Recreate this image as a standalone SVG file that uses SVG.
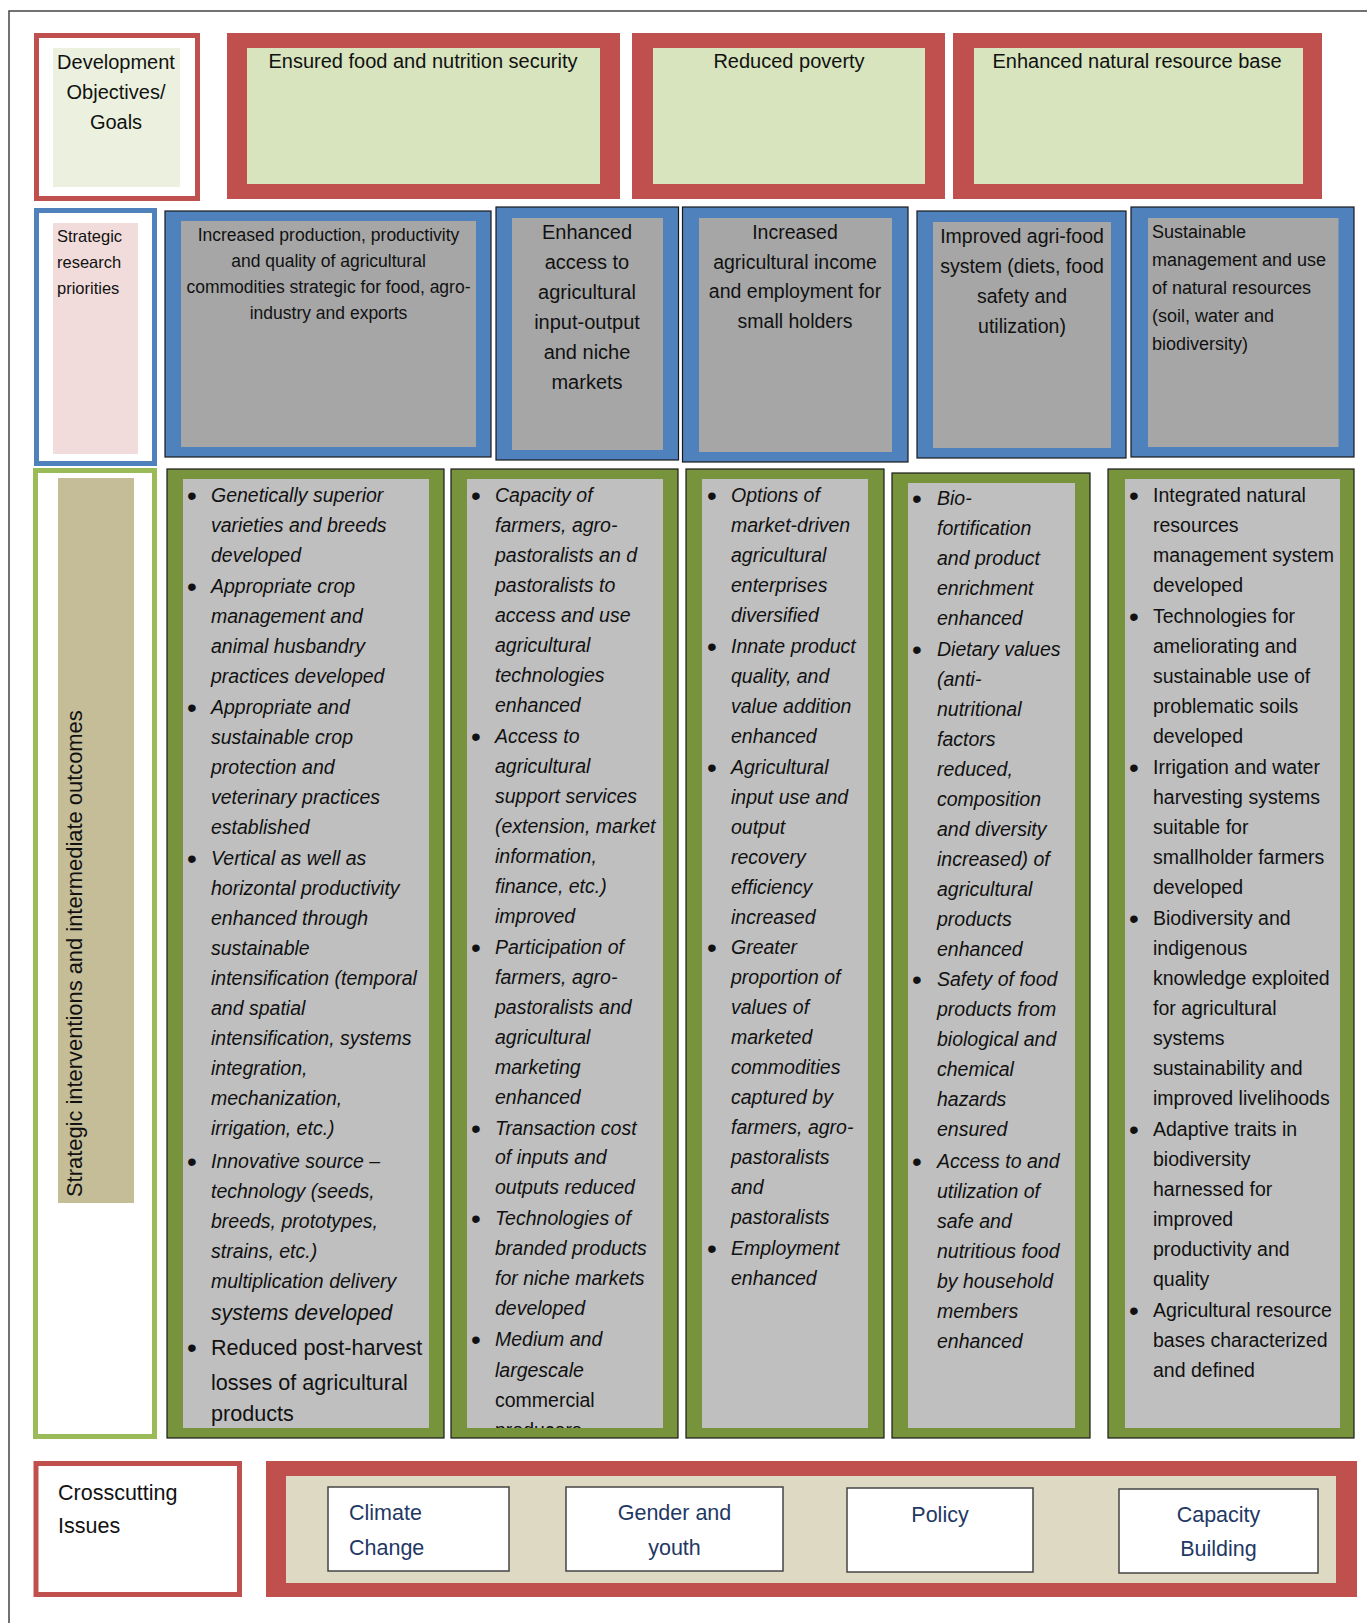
<svg xmlns="http://www.w3.org/2000/svg" width="1367" height="1623" viewBox="0 0 1367 1623">
<style>
text{font-family:"Liberation Sans",Arial,sans-serif;fill:#111}
.red{fill:#C0504D}
.blue{fill:#4F81BD;stroke:#1a1a1a;stroke-width:1.2}
.blueL{fill:#4F81BD}
.grn{fill:#77933C;stroke:#1a1a1a;stroke-width:1.2}
.lgrn{fill:#9BBB59}
.w{fill:#fff}
.g1{fill:#D7E4BD}
.g2{fill:#A6A6A6}
.g3{fill:#BFBFBF}
.h{font-size:20px;text-anchor:middle}
.b{font-size:19.5px;font-style:italic}
.bu{font-size:19.5px}
.dot{font-size:28px;text-anchor:middle}
.cc{fill:#fff;stroke:#444;stroke-width:1.5}
.nv{fill:#1F3864;font-size:21.5px}
</style>
<defs>
<clipPath id="c2"><rect x="467" y="479" width="196" height="949"/></clipPath>
</defs>
<g id="frame"><path d="M9,1623 V11 H1367" fill="none" stroke="#444" stroke-width="1.5"/></g>

<!-- Row 1 -->
<g id="goals-label">
<rect class="red" x="34" y="33" width="166" height="168"/>
<rect class="w" x="39" y="38" width="156" height="158"/>
<rect x="53" y="48" width="127" height="139" fill="#EBF1DE"/>
<text class="h" font-size="20"><tspan x="116" y="69">Development</tspan><tspan x="116" y="99">Objectives/</tspan><tspan x="116" y="129">Goals</tspan></text>
</g>
<g id="goal1">
<rect class="red" x="227" y="33" width="393" height="166"/>
<rect class="g1" x="247" y="48" width="353" height="136"/>
<text class="h" x="423" y="68">Ensured food and nutrition security</text>
</g>
<g id="goal2">
<rect class="red" x="632" y="33" width="313" height="166"/>
<rect class="g1" x="653" y="48" width="272" height="136"/>
<text class="h" x="789" y="68">Reduced poverty</text>
</g>
<g id="goal3">
<rect class="red" x="953" y="33" width="369" height="166"/>
<rect class="g1" x="974" y="48" width="329" height="136"/>
<text class="h" x="1137" y="68">Enhanced natural resource base</text>
</g>

<!-- Row 2 -->
<g id="priorities-label">
<rect class="blueL" x="34" y="208" width="123" height="258"/>
<rect class="w" x="39" y="213" width="113" height="248"/>
<rect x="53" y="223" width="85" height="231" fill="#F2DCDB"/>
<text font-size="16.5"><tspan x="57" y="242">Strategic</tspan><tspan x="57" y="268">research</tspan><tspan x="57" y="294">priorities</tspan></text>
</g>
<g id="priority1">
<rect class="blue" x="165" y="211" width="326" height="246"/>
<rect class="g2" x="181" y="221" width="295" height="226"/>
<text font-size="17.5" text-anchor="middle"><tspan x="328.5" y="241">Increased production, productivity</tspan><tspan x="328.5" y="267">and quality of agricultural</tspan><tspan x="328.5" y="293">commodities strategic for food, agro-</tspan><tspan x="328.5" y="319">industry and exports</tspan></text>
</g>
<g id="priority2">
<rect class="blue" x="496" y="207" width="182.5" height="253"/>
<rect class="g2" x="512" y="218" width="151" height="232"/>
<text font-size="20" text-anchor="middle"><tspan x="587" y="239">Enhanced</tspan><tspan x="587" y="269">access to</tspan><tspan x="587" y="299">agricultural</tspan><tspan x="587" y="329">input-output</tspan><tspan x="587" y="359">and niche</tspan><tspan x="587" y="389">markets</tspan></text>
</g>
<g id="priority3">
<rect class="blue" x="682.5" y="207" width="225.5" height="255"/>
<rect class="g2" x="699" y="218" width="193" height="234"/>
<text font-size="19.5" text-anchor="middle"><tspan x="795" y="239">Increased</tspan><tspan x="795" y="269">agricultural income</tspan><tspan x="795" y="298">and employment for</tspan><tspan x="795" y="328">small holders</tspan></text>
</g>
<g id="priority4">
<rect class="blue" x="917" y="211" width="209" height="247"/>
<rect class="g2" x="933" y="222" width="178" height="226"/>
<text font-size="19.5" text-anchor="middle"><tspan x="1022" y="243">Improved agri-food</tspan><tspan x="1022" y="273">system (diets, food</tspan><tspan x="1022" y="303">safety and</tspan><tspan x="1022" y="333">utilization)</tspan></text>
</g>
<g id="priority5">
<rect class="blue" x="1131" y="207" width="223" height="250"/>
<rect class="g2" x="1148" y="218" width="190.5" height="229"/>
<text font-size="18"><tspan x="1152" y="238">Sustainable</tspan><tspan x="1152" y="266">management and use</tspan><tspan x="1152" y="294">of natural resources</tspan><tspan x="1152" y="322">(soil, water and</tspan><tspan x="1152" y="350">biodiversity)</tspan></text>
</g>

<!-- Row 3 -->
<g id="outcomes-label">
<rect class="lgrn" x="33" y="468" width="124" height="971"/>
<rect class="w" x="38" y="473" width="114" height="961"/>
<rect x="58" y="478" width="76" height="725" fill="#C4BD97"/>
<text font-size="21.9" transform="translate(82,1197) rotate(-90)" x="0" y="0">Strategic interventions and intermediate outcomes</text>
</g>

<g id="outcome1">
<rect class="grn" x="167" y="469" width="277" height="969"/>
<rect class="g3" x="183" y="479" width="246" height="949"/>
<text class="dot" transform="translate(0,3)"><tspan x="192" y="502">•</tspan><tspan x="192" y="593">•</tspan><tspan x="192" y="714">•</tspan><tspan x="192" y="865">•</tspan><tspan x="192" y="1168">•</tspan><tspan x="192" y="1354">•</tspan></text>
<text class="b">
<tspan x="211" y="502">Genetically superior</tspan><tspan x="211" y="532">varieties and breeds</tspan><tspan x="211" y="562">developed</tspan>
<tspan x="211" y="593">Appropriate crop</tspan><tspan x="211" y="623">management and</tspan><tspan x="211" y="653">animal husbandry</tspan><tspan x="211" y="683">practices developed</tspan>
<tspan x="211" y="714">Appropriate and</tspan><tspan x="211" y="744">sustainable crop</tspan><tspan x="211" y="774">protection and</tspan><tspan x="211" y="804">veterinary practices</tspan><tspan x="211" y="834">established</tspan>
<tspan x="211" y="865">Vertical as well as</tspan><tspan x="211" y="895">horizontal productivity</tspan><tspan x="211" y="925">enhanced through</tspan><tspan x="211" y="955">sustainable</tspan><tspan x="211" y="985">intensification (temporal</tspan><tspan x="211" y="1015">and spatial</tspan><tspan x="211" y="1045">intensification, systems</tspan><tspan x="211" y="1075">integration,</tspan><tspan x="211" y="1105">mechanization,</tspan><tspan x="211" y="1135">irrigation, etc.)</tspan>
<tspan x="211" y="1168">Innovative source –</tspan><tspan x="211" y="1198">technology (seeds,</tspan><tspan x="211" y="1228">breeds, prototypes,</tspan><tspan x="211" y="1258">strains, etc.)</tspan><tspan x="211" y="1288">multiplication delivery</tspan><tspan x="211" y="1320" font-size="21.2">systems developed</tspan>
</text>
<text font-size="21.6"><tspan x="211" y="1355">Reduced post-harvest</tspan><tspan x="211" y="1390">losses of agricultural</tspan><tspan x="211" y="1421">products</tspan></text>
</g>

<g id="outcome2">
<rect class="grn" x="451" y="469" width="227" height="969"/>
<rect class="g3" x="467" y="479" width="196" height="949"/>
<text class="dot" transform="translate(0,3)"><tspan x="476" y="502">•</tspan><tspan x="476" y="743">•</tspan><tspan x="476" y="954">•</tspan><tspan x="476" y="1135">•</tspan><tspan x="476" y="1225">•</tspan><tspan x="476" y="1346">•</tspan></text>
<text class="b">
<tspan x="495" y="502">Capacity of</tspan><tspan x="495" y="532">farmers, agro-</tspan><tspan x="495" y="562">pastoralists an d</tspan><tspan x="495" y="592">pastoralists to</tspan><tspan x="495" y="622">access and use</tspan><tspan x="495" y="652">agricultural</tspan><tspan x="495" y="682">technologies</tspan><tspan x="495" y="712">enhanced</tspan>
<tspan x="495" y="743">Access to</tspan><tspan x="495" y="773">agricultural</tspan><tspan x="495" y="803">support services</tspan><tspan x="495" y="833">(extension, market</tspan><tspan x="495" y="863">information,</tspan><tspan x="495" y="893">finance, etc.)</tspan><tspan x="495" y="923">improved</tspan>
<tspan x="495" y="954">Participation of</tspan><tspan x="495" y="984">farmers, agro-</tspan><tspan x="495" y="1014">pastoralists and</tspan><tspan x="495" y="1044">agricultural</tspan><tspan x="495" y="1074">marketing</tspan><tspan x="495" y="1104">enhanced</tspan>
<tspan x="495" y="1135">Transaction cost</tspan><tspan x="495" y="1164">of inputs and</tspan><tspan x="495" y="1194">outputs reduced</tspan>
<tspan x="495" y="1225">Technologies of</tspan><tspan x="495" y="1255">branded products</tspan><tspan x="495" y="1285">for niche markets</tspan><tspan x="495" y="1315">developed</tspan>
<tspan x="495" y="1346">Medium and</tspan><tspan x="495" y="1377">largescale</tspan>
</text>
<text class="bu" clip-path="url(#c2)"><tspan x="495" y="1407">commercial</tspan><tspan x="495" y="1437">producers</tspan></text>
</g>

<g id="outcome3">
<rect class="grn" x="686" y="469" width="198" height="969"/>
<rect class="g3" x="702" y="479" width="166" height="949"/>
<text class="dot" transform="translate(0,3)"><tspan x="712" y="502">•</tspan><tspan x="712" y="653">•</tspan><tspan x="712" y="774">•</tspan><tspan x="712" y="954">•</tspan><tspan x="712" y="1255">•</tspan></text>
<text class="b">
<tspan x="731" y="502">Options of</tspan><tspan x="731" y="532">market-driven</tspan><tspan x="731" y="562">agricultural</tspan><tspan x="731" y="592">enterprises</tspan><tspan x="731" y="622">diversified</tspan>
<tspan x="731" y="653">Innate product</tspan><tspan x="731" y="683">quality, and</tspan><tspan x="731" y="713">value addition</tspan><tspan x="731" y="743">enhanced</tspan>
<tspan x="731" y="774">Agricultural</tspan><tspan x="731" y="804">input use and</tspan><tspan x="731" y="834">output</tspan><tspan x="731" y="864">recovery</tspan><tspan x="731" y="894">efficiency</tspan><tspan x="731" y="924">increased</tspan>
<tspan x="731" y="954">Greater</tspan><tspan x="731" y="984">proportion of</tspan><tspan x="731" y="1014">values of</tspan><tspan x="731" y="1044">marketed</tspan><tspan x="731" y="1074">commodities</tspan><tspan x="731" y="1104">captured by</tspan><tspan x="731" y="1134">farmers, agro-</tspan><tspan x="731" y="1164">pastoralists</tspan><tspan x="731" y="1194">and</tspan><tspan x="731" y="1224">pastoralists</tspan>
<tspan x="731" y="1255">Employment</tspan><tspan x="731" y="1285">enhanced</tspan>
</text>
</g>

<g id="outcome4">
<rect class="grn" x="892" y="473" width="198" height="965"/>
<rect class="g3" x="908" y="483" width="167" height="945"/>
<text class="dot" transform="translate(0,3)"><tspan x="917" y="505">•</tspan><tspan x="917" y="656">•</tspan><tspan x="917" y="986">•</tspan><tspan x="917" y="1168">•</tspan></text>
<text class="b">
<tspan x="937" y="505">Bio-</tspan><tspan x="937" y="535">fortification</tspan><tspan x="937" y="565">and product</tspan><tspan x="937" y="595">enrichment</tspan><tspan x="937" y="625">enhanced</tspan>
<tspan x="937" y="656">Dietary values</tspan><tspan x="937" y="686">(anti-</tspan><tspan x="937" y="716">nutritional</tspan><tspan x="937" y="746">factors</tspan><tspan x="937" y="776">reduced,</tspan><tspan x="937" y="806">composition</tspan><tspan x="937" y="836">and diversity</tspan><tspan x="937" y="866">increased) of</tspan><tspan x="937" y="896">agricultural</tspan><tspan x="937" y="926">products</tspan><tspan x="937" y="956">enhanced</tspan>
<tspan x="937" y="986">Safety of food</tspan><tspan x="937" y="1016">products from</tspan><tspan x="937" y="1046">biological and</tspan><tspan x="937" y="1076">chemical</tspan><tspan x="937" y="1106">hazards</tspan><tspan x="937" y="1136">ensured</tspan>
<tspan x="937" y="1168">Access to and</tspan><tspan x="937" y="1198">utilization of</tspan><tspan x="937" y="1228">safe and</tspan><tspan x="937" y="1258">nutritious food</tspan><tspan x="937" y="1288">by household</tspan><tspan x="937" y="1318">members</tspan><tspan x="937" y="1348">enhanced</tspan>
</text>
</g>

<g id="outcome5">
<rect class="grn" x="1108" y="469" width="246" height="969"/>
<rect class="g3" x="1125" y="479" width="215" height="949"/>
<text class="dot" transform="translate(0,3)"><tspan x="1134" y="502">•</tspan><tspan x="1134" y="623">•</tspan><tspan x="1134" y="774">•</tspan><tspan x="1134" y="925">•</tspan><tspan x="1134" y="1136">•</tspan><tspan x="1134" y="1317">•</tspan></text>
<text class="bu">
<tspan x="1153" y="502">Integrated natural</tspan><tspan x="1153" y="532">resources</tspan><tspan x="1153" y="562">management system</tspan><tspan x="1153" y="592">developed</tspan>
<tspan x="1153" y="623">Technologies for</tspan><tspan x="1153" y="653">ameliorating and</tspan><tspan x="1153" y="683">sustainable use of</tspan><tspan x="1153" y="713">problematic soils</tspan><tspan x="1153" y="743">developed</tspan>
<tspan x="1153" y="774">Irrigation and water</tspan><tspan x="1153" y="804">harvesting systems</tspan><tspan x="1153" y="834">suitable for</tspan><tspan x="1153" y="864">smallholder farmers</tspan><tspan x="1153" y="894">developed</tspan>
<tspan x="1153" y="925">Biodiversity and</tspan><tspan x="1153" y="955">indigenous</tspan><tspan x="1153" y="985">knowledge exploited</tspan><tspan x="1153" y="1015">for agricultural</tspan><tspan x="1153" y="1045">systems</tspan><tspan x="1153" y="1075">sustainability and</tspan><tspan x="1153" y="1105">improved livelihoods</tspan>
<tspan x="1153" y="1136">Adaptive traits in</tspan><tspan x="1153" y="1166">biodiversity</tspan><tspan x="1153" y="1196">harnessed for</tspan><tspan x="1153" y="1226">improved</tspan><tspan x="1153" y="1256">productivity and</tspan><tspan x="1153" y="1286">quality</tspan>
<tspan x="1153" y="1317">Agricultural resource</tspan><tspan x="1153" y="1347">bases characterized</tspan><tspan x="1153" y="1377">and defined</tspan>
</text>
</g>

<!-- Row 4 -->
<g id="crosscutting-label">
<rect class="red" x="33.5" y="1461" width="208.5" height="136"/>
<rect class="w" x="38.5" y="1466" width="198.5" height="126"/>
<text font-size="21.5"><tspan x="58" y="1500">Crosscutting</tspan><tspan x="58" y="1533">Issues</tspan></text>
</g>
<g id="crosscutting-panel">
<rect class="red" x="266" y="1461" width="1091" height="136"/>
<rect x="286" y="1476" width="1050" height="107" fill="#DDD9C3"/>
</g>
<g id="climate">
<rect class="cc" x="328" y="1487" width="181" height="84"/>
<text class="nv"><tspan x="349" y="1520">Climate</tspan><tspan x="349" y="1555">Change</tspan></text>
</g>
<g id="gender">
<rect class="cc" x="566" y="1487" width="217" height="84"/>
<text class="nv" text-anchor="middle"><tspan x="674.5" y="1520">Gender and</tspan><tspan x="674.5" y="1555">youth</tspan></text>
</g>
<g id="policy">
<rect class="cc" x="847" y="1488" width="186" height="84"/>
<text class="nv" text-anchor="middle" x="940" y="1522">Policy</text>
</g>
<g id="capacity">
<rect class="cc" x="1119" y="1489" width="199" height="84"/>
<text class="nv" text-anchor="middle"><tspan x="1218.5" y="1522">Capacity</tspan><tspan x="1218.5" y="1556">Building</tspan></text>
</g>
<g id="connectors"/>
</svg>
